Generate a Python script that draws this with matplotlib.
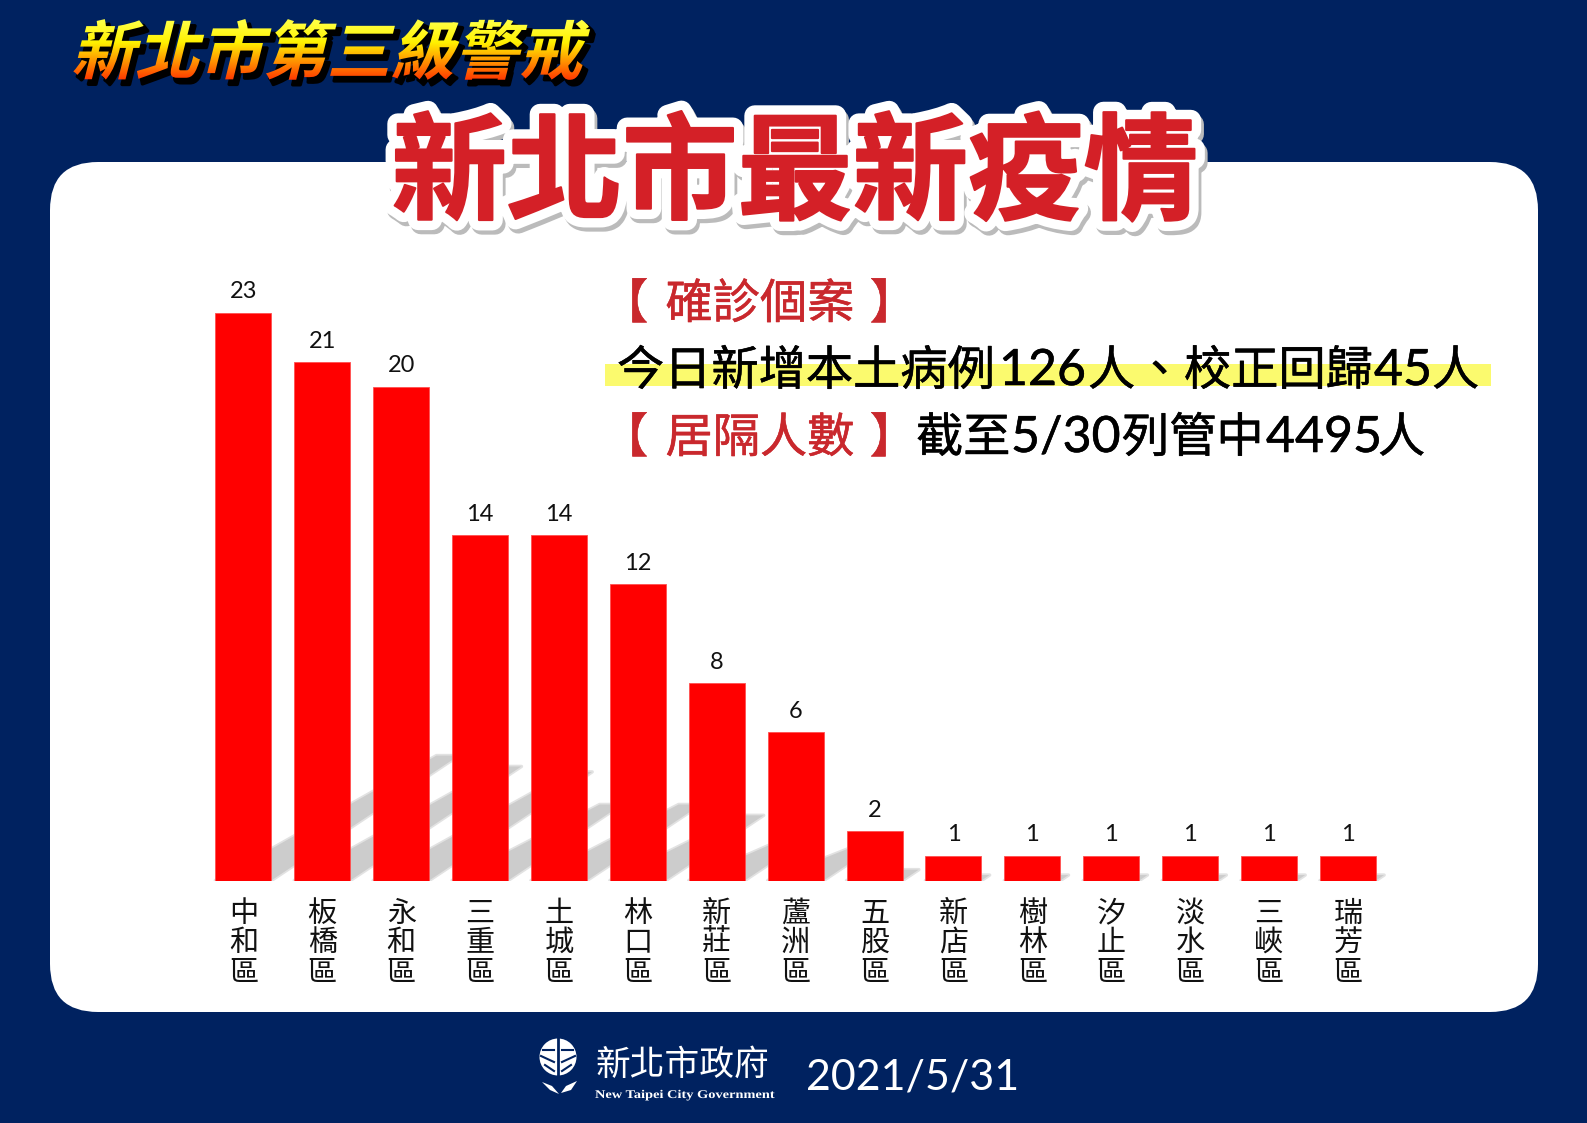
import numpy as np
import matplotlib
matplotlib.use('Agg')
import matplotlib.pyplot as plt
import matplotlib.patheffects as pe
from matplotlib.patches import FancyBboxPatch, Rectangle, Circle, Polygon
from matplotlib.transforms import Affine2D, Bbox

districts = ['中和區', '板橋區', '永和區', '三重區', '土城區', '林口區', '新莊區', '蘆洲區',
             '五股區', '新店區', '樹林區', '汐止區', '淡水區', '三峽區', '瑞芳區']
cases = [23, 21, 20, 14, 14, 12, 8, 6, 2, 1, 1, 1, 1, 1, 1]

top_title = '新北市第三級警戒'
main_title = '新北市最新疫情'
date_text = '2021/5/31'

W = 1587
H = 1123
navy = '#002260'
cjk = ['Noto Sans CJK TC', 'DejaVu Sans']
plt.rcParams['font.family'] = cjk


class Slant(pe.AbstractPathEffect):
    # draws the text path skewed / stretched, in a flat colour or a vertical gradient
    def __init__(self, color=None, stops=None, skew=0, stretch=1, lw=0, offset=(0, 0)):
        super().__init__(offset)
        self.color = color
        self.stops = stops
        self.skew = skew
        self.stretch = stretch
        self.lw = lw

    def draw_path(self, renderer, gc, tpath, affine, rgbFace=None):
        x0, y0 = affine.transform((0, 0))
        aff = affine + Affine2D().translate(-x0, -y0).scale(self.stretch, 1).skew_deg(self.skew, 0).translate(x0, y0)
        aff = aff + Affine2D().translate(*self._offset)
        if self.stops is None:
            gc0 = renderer.new_gc()
            gc0.copy_properties(gc)
            gc0.set_foreground(self.color)
            gc0.set_linewidth(self.lw)
            gc0.set_joinstyle('round')
            renderer.draw_path(gc0, tpath, aff, matplotlib.colors.to_rgba(self.color))
            gc0.restore()
            return
        ys, cols = self.stops
        rgb = np.array([matplotlib.colors.to_rgb(c) for c in cols])
        for y in range(ys[0] - 4, ys[-1] + 4):
            col = [np.interp(y, ys, rgb[:, k]) for k in range(3)]
            gc0 = renderer.new_gc()
            gc0.copy_properties(gc)
            gc0.set_foreground(col)
            gc0.set_linewidth(self.lw)
            gc0.set_clip_rectangle(Bbox([[0, H - y - 1], [W, H - y]]))
            renderer.draw_path(gc0, tpath, aff, col + [1])
            gc0.restore()


fig = plt.figure(figsize=(W / 100, H / 100), dpi=100, facecolor=navy)

# pixel canvas for everything around the chart
bg = fig.add_axes([0, 0, 1, 1])
bg.set_xlim(0, W)
bg.set_ylim(H, 0)
bg.axis('off')
panel = FancyBboxPatch((98, 210), 1392, 754, boxstyle='round,pad=0,rounding_size=1', fc='white', ec='none')
panel.set_boxstyle('round', pad=48, rounding_size=48)
bg.add_patch(panel)

# titles
bg.text(71, 74, top_title, fontsize=46, fontweight='bold', color='orange', ha='left', va='baseline',
        path_effects=[Slant(color='black', skew=14, lw=2.5, offset=(4, -5)),
                      Slant(stops=([22, 42, 80], ['#FFFF40', '#FFF000', '#FF3300']), skew=14)])
bg.text(795, 177, main_title, fontsize=83, fontweight='bold', color='#D42027', ha='center', va='center',
        path_effects=[pe.Stroke(linewidth=15, foreground='#BBBBBB', offset=(2, -3)),
                      pe.Stroke(linewidth=15, foreground='white'),
                      pe.Stroke(linewidth=1.5, foreground='#D42027'),
                      pe.Normal()])

# info block
red = '#C9282D'
red_fx = [pe.Stroke(linewidth=0.4, foreground=red), pe.Normal()]
black_fx = [pe.Stroke(linewidth=0.4, foreground='black'), pe.Normal()]
bg.add_patch(Rectangle((605, 364), 886, 22, fc='#FBFA6E', ec='none'))
for label, y in [('確診個案', 305), ('居隔人數', 439)]:
    bg.text(760, y, label, fontsize=34, color=red, ha='center', va='center', path_effects=red_fx)
    bg.text(601, y, '【', fontsize=34, color=red, ha='left', va='center', path_effects=red_fx)
    bg.text(917, y, '】', fontsize=34, color=red, ha='right', va='center', path_effects=red_fx)
line2 = [('今日新增本土病例', 617, 34, cjk), ('126', 999, 36, ['Lato']), ('人', 1088, 34, cjk), ('、', 1136, 34, cjk),
         ('校正回歸', 1184, 34, cjk), ('45', 1374, 36, ['Lato']), ('人', 1432, 34, cjk)]
for s, x, size, fam in line2:
    bg.text(x, 385, s, fontsize=size, family=fam, color='black', ha='left', va='baseline', path_effects=black_fx)
line3 = [('截至', 916, 34, cjk), ('5/30', 1011, 36, ['Lato']), ('列管中', 1122, 34, cjk), ('4495', 1266, 36, ['Lato']),
         ('人', 1378, 34, cjk)]
for s, x, size, fam in line3:
    bg.text(x, 452, s, fontsize=size, family=fam, color='black', ha='left', va='baseline', path_effects=black_fx)

# footer
bg.add_patch(Circle((558, 1057), 18.5, fc='white', ec='none'))
bg.plot([558, 558], [1038, 1076], color=navy, lw=2)
for s in [-1, 1]:
    bg.plot([558 + s * 4, 558 + s * 15], [1050, 1050], color=navy, lw=1.5)
    bg.plot([558 + s * 4, 558 + s * 17], [1062, 1056], color=navy, lw=1.5)
    bg.plot([558 + s * 4, 558 + s * 13], [1071, 1065], color=navy, lw=1.5)
bg.add_patch(Polygon([(561, 1093), (566, 1086), (577, 1081), (571, 1090)], fc='white', ec='none'))
bg.add_patch(Polygon([(559, 1094), (550, 1090), (542, 1082), (552, 1086)], fc='white', ec='none'))
bg.text(682, 1065, '新北市政府', fontsize=25, color='white', ha='center', va='center')
bg.text(595, 1098, 'New Taipei City Government', fontsize=8.5, family=['Liberation Serif'], fontweight='bold',
        color='white', ha='left', va='baseline', path_effects=[Slant(color='white', stretch=1.22)])
bg.text(806, 1090, date_text, fontsize=31, family=['Lato'], color='white', ha='left', va='baseline')

# chart
px_left, px_width, px_bottom, px_height = 203.9, 1183.5, 880.5, 567.8
ax = fig.add_axes([px_left / W, (H - px_bottom) / H, px_width / W, px_height / H])
ax.patch.set_visible(False)
ax.set_xlim(-0.5, 14.5)
ax.set_ylim(0, 23)
x = np.arange(len(cases))
bar_w = 0.71

# floor shadow, height and shift follow the bar value
for xi, v in zip(x, cases):
    h = v * 0.22
    dx = h * 24.7 * 1.5 / 78.9
    ax.add_patch(Polygon([(xi - bar_w / 2, 0), (xi + bar_w / 2, 0), (xi + bar_w / 2 + dx, h), (xi + bar_w * 0.1 + dx, h)],
                         fc='#E2E2E2', ec='#E2E2E2', lw=2.5, zorder=1, joinstyle='round'))
for xi, v in zip(x, cases):
    h = v * 0.22
    dx = h * 24.7 * 1.5 / 78.9
    ax.add_patch(Polygon([(xi - bar_w / 2, 0), (xi + bar_w / 2, 0), (xi + bar_w / 2 + dx, h), (xi + bar_w * 0.1 + dx, h)],
                         fc='#CCCCCC', ec='none', zorder=2))

ax.bar(x, cases, width=bar_w, color='#FF0000', edgecolor='#FF5050', linewidth=0.6, zorder=3)
for xi, v in zip(x, cases):
    ax.annotate(str(v), (xi, v), xytext=(0, 15), textcoords='offset points', ha='center', va='center',
                fontsize=17, family=['Lato'], color='#111111', annotation_clip=False)

ax.set_xticks(x)
ax.set_xticklabels(['\n'.join(d) for d in districts], fontsize=21, linespacing=0.98, color='#111111')
ax.tick_params(axis='x', length=0, pad=13)
ax.set_yticks([])
for sp in ax.spines.values():
    sp.set_visible(False)

fig.savefig('out.png', dpi=100, facecolor=navy)
